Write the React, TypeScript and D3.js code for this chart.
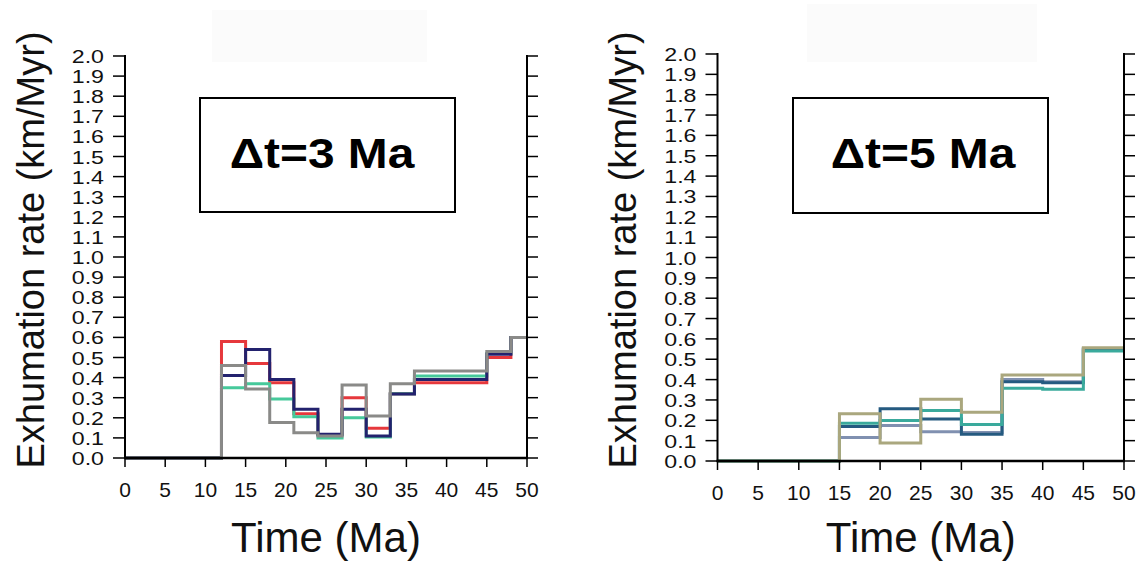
import React from "react";
import * as d3 from "d3";

// ---------- data ----------
const yTicks = d3.range(0, 21).map((i) => i / 10);
const xTicks = [0, 5, 10, 15, 20, 25, 30, 35, 40, 45, 50];

// Δt = 3 Ma panel
const timesA = [0, 12, 15, 18, 21, 24, 27, 30, 33, 36, 45, 48, 50];
const redA = [0, 0.58, 0.47, 0.375, 0.22, 0.115, 0.3, 0.148, 0.32, 0.375, 0.5, 0.6];
const greenA = [0, 0.35, 0.37, 0.294, 0.205, 0.1, 0.2, 0.105, 0.32, 0.408, 0.52, 0.6];
const navyA = [0, 0.41, 0.54, 0.39, 0.242, 0.118, 0.242, 0.11, 0.318, 0.39, 0.516, 0.6];
const grayA = [0, 0.46, 0.343, 0.176, 0.126, 0.11, 0.363, 0.209, 0.37, 0.433, 0.53, 0.6];

// Δt = 5 Ma panel
const timesB = [0, 15, 20, 25, 30, 35, 40, 45, 50];
const slateB = [0, 0.116, 0.174, 0.144, 0.14, 0.4, 0.39, 0.55];
const blueB = [0, 0.169, 0.257, 0.207, 0.132, 0.39, 0.385, 0.55];
const tealB = [0, 0.185, 0.199, 0.248, 0.179, 0.357, 0.353, 0.54];
const khakiB = [0, 0.232, 0.088, 0.303, 0.24, 0.423, 0.423, 0.557];

const seriesA = [
  { values: redA, color: "#e6383c" },
  { values: greenA, color: "#46c99b" },
  { values: navyA, color: "#23226e" },
  { values: grayA, color: "#8a8a88" },
];
const seriesB = [
  { values: slateB, color: "#8090b0" },
  { values: blueB, color: "#255a80" },
  { values: tealB, color: "#3aaa9c" },
  { values: khakiB, color: "#aaa77e" },
];

const FONT = "'Liberation Sans', Arial, Helvetica, sans-serif";

type PanelProps = {
  x0: number;
  x1: number;
  yBottom: number;
  yTop: number;
  times: number[];
  series: { values: number[]; color: string }[];
  label: string;
  box: { x: number; y: number; w: number; h: number; tx: number };
  faint: { x: number; y: number; w: number; h: number };
  titleX: number;
};

function Panel(p: PanelProps) {
  const x = d3.scaleLinear().domain([0, 50]).range([p.x0, p.x1]);
  const y = d3.scaleLinear().domain([0, 2]).range([p.yBottom, p.yTop]);
  const line = d3
    .line<[number, number]>()
    .x((d) => x(d[0]))
    .y((d) => y(d[1]))
    .curve(d3.curveStepAfter);
  const midX = (p.x0 + p.x1) / 2;
  return (
    <g>
      <rect x={p.faint.x} y={p.faint.y} width={p.faint.w} height={p.faint.h} fill="#fbfbfb" />
      {/* series */}
      {p.series.map((s, i) => {
        const pts: [number, number][] = s.values.map((v, j) => [p.times[j], v]);
        pts.push([p.times[p.times.length - 1], s.values[s.values.length - 1]]);
        return (
          <path key={i} d={line(pts) || ""} fill="none" stroke={s.color} strokeWidth={3} />
        );
      })}
      {/* axes */}
      <line x1={p.x0} x2={p.x0} y1={y(2) - 1} y2={p.yBottom + 1} stroke="#000" strokeWidth={2} />
      <line x1={p.x1} x2={p.x1} y1={y(2) - 1} y2={p.yBottom + 1} stroke="#000" strokeWidth={2} />
      <line x1={p.x0 - 1} x2={p.x1 + 1} y1={p.yBottom} y2={p.yBottom} stroke="#000" strokeWidth={2.5} />
      {yTicks.map((t) => (
        <g key={"y" + t}>
          <line x1={p.x0 - 12} x2={p.x0} y1={y(t)} y2={y(t)} stroke="#000" strokeWidth={1.5} />
          <line x1={p.x1} x2={p.x1 + 11} y1={y(t)} y2={y(t)} stroke="#000" strokeWidth={1.5} />
          <text
            transform={`translate(${p.x0 - 21},${y(t) + 7}) scale(1.22,1)`}
            textAnchor="end"
            fontSize={19}
            fontFamily={FONT}
            fill="#111"
          >
            {t.toFixed(1)}
          </text>
        </g>
      ))}
      {xTicks.map((t) => (
        <g key={"x" + t}>
          <line x1={x(t)} x2={x(t)} y1={p.yBottom} y2={p.yBottom + 9} stroke="#000" strokeWidth={1.5} />
          <text x={x(t)} y={p.yBottom + 39} textAnchor="middle" fontSize={21} fontFamily={FONT} fill="#111">
            {t}
          </text>
        </g>
      ))}
      <text x={midX} y={552} textAnchor="middle" fontSize={42} fontFamily={FONT} fill="#111">
        Time (Ma)
      </text>
      <text
        transform={`translate(${p.titleX},${250}) rotate(-90)`}
        textAnchor="middle"
        fontSize={38}
        fontFamily={FONT}
        fill="#111"
      >
        Exhumation rate (km/Myr)
      </text>
      <rect x={p.box.x} y={p.box.y} width={p.box.w} height={p.box.h} fill="#fff" stroke="#000" strokeWidth={2} />
      <text
        transform={`translate(${p.box.tx},${p.box.y + 70}) scale(1.14,1)`}
        textAnchor="middle"
        fontSize={42}
        fontWeight="bold"
        fontFamily={FONT}
        fill="#000"
      >
        {p.label}
      </text>
    </g>
  );
}

export default function App() {
  return (
    <svg
      width={1140}
      height={563}
      style={{ position: "absolute", left: 0, top: 0, background: "#fff" }}
    >
      <rect width={1140} height={563} fill="#fff" />
      <Panel
        x0={125}
        x1={527}
        yBottom={458}
        yTop={56}
        times={timesA}
        series={seriesA}
        label="Δt=3 Ma"
        box={{ x: 200, y: 98, w: 255, h: 114, tx: 322 }}
        faint={{ x: 212, y: 10, w: 215, h: 52 }}
        titleX={44}
      />
      <Panel
        x0={717.5}
        x1={1124}
        yBottom={461}
        yTop={54}
        times={timesB}
        series={seriesB}
        label="Δt=5 Ma"
        box={{ x: 793, y: 98, w: 255, h: 115, tx: 923 }}
        faint={{ x: 807, y: 4, w: 230, h: 58 }}
        titleX={636}
      />
    </svg>
  );
}
